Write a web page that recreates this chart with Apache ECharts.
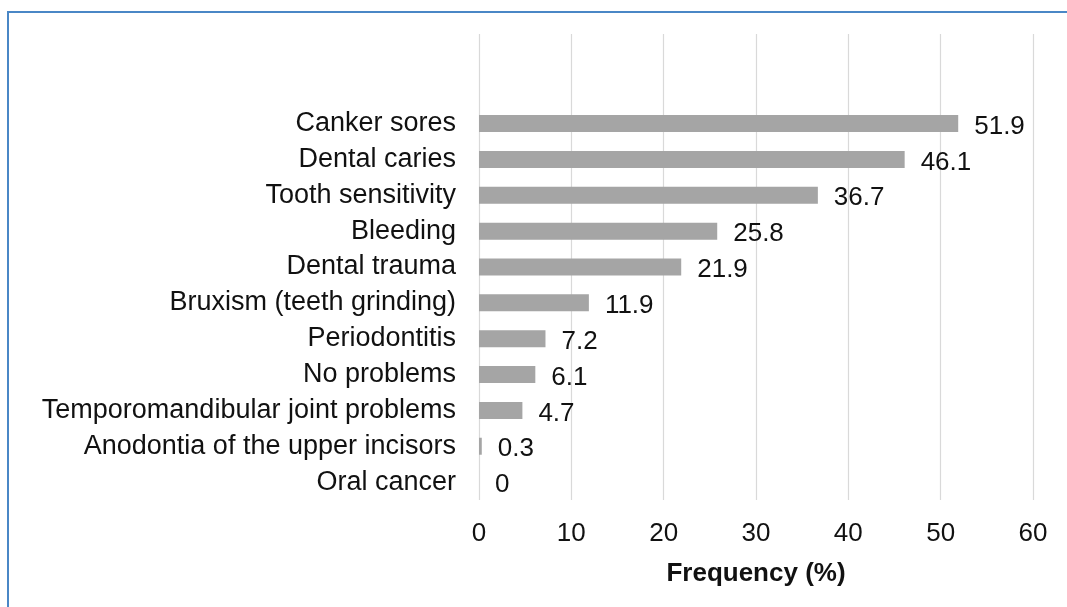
<!DOCTYPE html>
<html>
<head>
<meta charset="utf-8">
<script src="https://cdn.jsdelivr.net/npm/echarts@6/dist/echarts.min.js"></script>
<style>
  html, body { margin: 0; padding: 0; background: #fff; }
  #frame {
    position: absolute; left: 7px; top: 11px; right: -4px; bottom: -4px;
    border-top: 2px solid #4a87c6; border-left: 2px solid #4a87c6;
  }
  #chart { position: absolute; left: 0; top: 0; width: 1067px; height: 607px; }
</style>
</head>
<body>
<div id="frame"></div>
<div id="chart"></div>
<script>
// Reported oral health problems, top to bottom
const categories = [
  'Canker sores',
  'Dental caries',
  'Tooth sensitivity',
  'Bleeding',
  'Dental trauma',
  'Bruxism (teeth grinding)',
  'Periodontitis',
  'No problems',
  'Temporomandibular joint problems',
  'Anodontia of the upper incisors',
  'Oral cancer'
];
const frequency = [51.9, 46.1, 36.7, 25.8, 21.9, 11.9, 7.2, 6.1, 4.7, 0.3, 0];
const xTicks = [0, 10, 20, 30, 40, 50, 60];

// two empty slots above the first category leave headroom in the plot area
const padCats = [' ', '  '];
const yCats = padCats.concat(categories);
const yVals = padCats.map(() => null).concat(frequency);

const FONT = '"Liberation Sans", Arial, sans-serif';
const chart = echarts.init(document.getElementById('chart'), null, { renderer: 'canvas' });
chart.setOption({
  animation: false,
  backgroundColor: 'transparent',
  grid: { left: 479, right: 34, top: 34, bottom: 107, containLabel: false },
  xAxis: {
    type: 'value',
    min: xTicks[0],
    max: xTicks[xTicks.length - 1],
    interval: xTicks[1] - xTicks[0],
    axisLine: { show: false },
    axisTick: { show: false },
    splitLine: { show: true, lineStyle: { color: '#d9d9d9', width: 1.2 } },
    axisLabel: { color: '#111', fontSize: 26, fontFamily: FONT, margin: 21 },
    name: 'Frequency (%)',
    nameLocation: 'middle',
    nameGap: 61,
    nameTextStyle: { color: '#111', fontSize: 26, fontWeight: 'bold', fontFamily: FONT }
  },
  yAxis: {
    type: 'category',
    inverse: true,
    data: yCats,
    axisLine: { show: false },
    axisTick: { show: false },
    splitLine: { show: false },
    axisLabel: { color: '#111', fontSize: 27, fontFamily: FONT, margin: 23, interval: 0 }
  },
  series: [{
    type: 'bar',
    data: yVals,
    barWidth: 17,
    itemStyle: { color: '#a5a5a5' },
    label: {
      show: true,
      position: 'right',
      distance: 16,
      offset: [0, 3],
      color: '#111',
      fontSize: 26,
      fontFamily: FONT,
      formatter: p => String(p.value)
    }
  }]
});
</script>
</body>
</html>
